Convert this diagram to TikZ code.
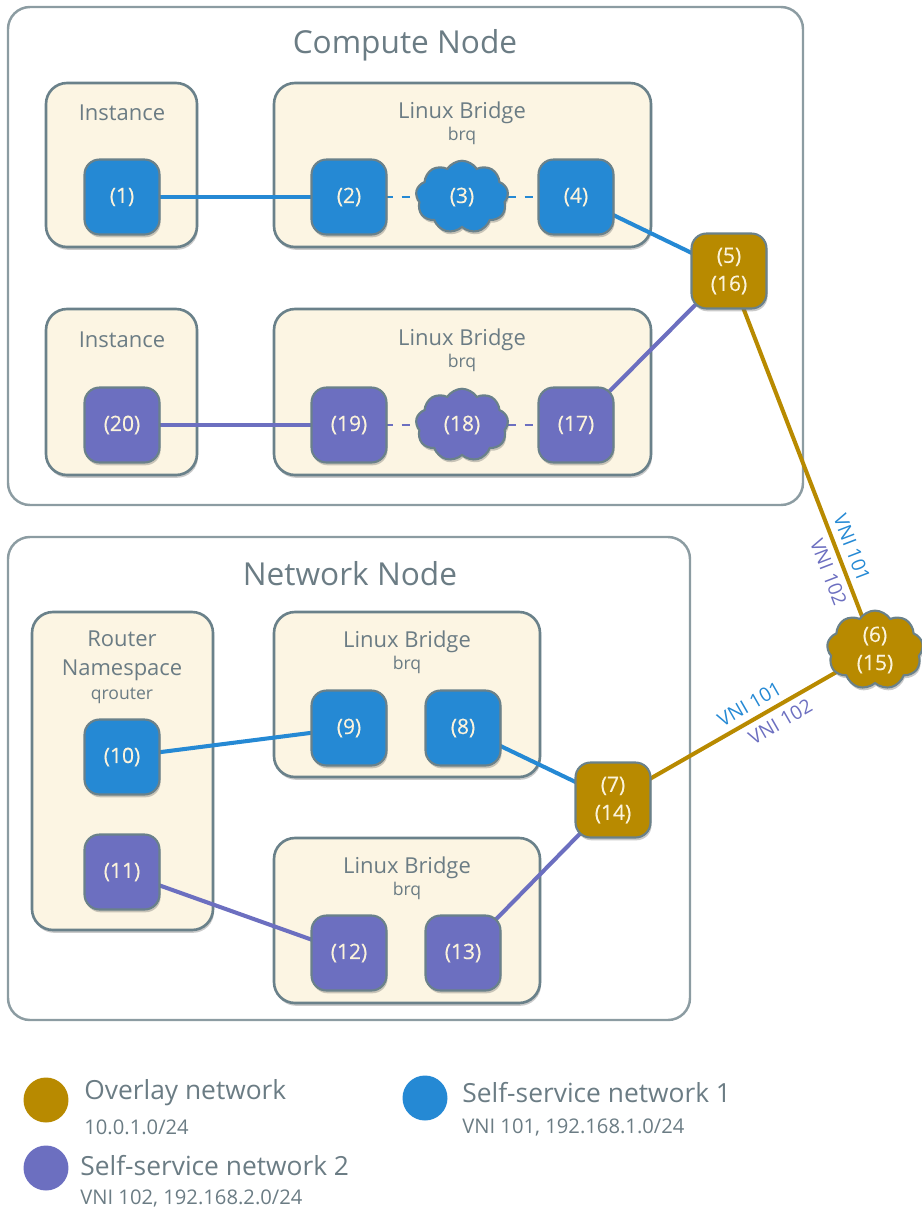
\documentclass[tikz,border=0pt]{standalone}
\usepackage{fontspec}
\setmainfont{Open Sans}
\newfontfamily\portfont{Open Sans}[FakeBold=0.4]
\usetikzlibrary{shapes.symbols,shadows,fit}

\definecolor{ovlgold}{HTML}{B88A00}
\definecolor{netblue}{HTML}{2589D4}
\definecolor{netpurple}{HTML}{6C6FC0}
\definecolor{boxcream}{HTML}{FCF5E3}
\definecolor{boxedge}{HTML}{6A818A}
\definecolor{hostedge}{HTML}{8C9CA2}
\definecolor{labelgrey}{HTML}{6B7C84}
\definecolor{porttext}{HTML}{FBF3DC}

\pgfdeclarelayer{boxes}
\pgfdeclarelayer{wires}
\pgfsetlayers{boxes,wires,main}

\tikzset{
  softshadow/.style={drop shadow={shadow xshift=0.6pt, shadow yshift=-1.6pt, opacity=0.35, fill=black!60}},
  host/.style={draw=hostedge, line width=1.4pt, rounded corners=0.44cm, inner sep=0pt},
  container/.style={draw=boxedge, line width=1.5pt, rounded corners=0.42cm, fill=boxcream, inner sep=0pt, softshadow},
  hosttitle/.style={text=labelgrey, font=\fontsize{18}{20}\selectfont},
  boxtitle/.style={text=labelgrey, font=\fontsize{12.5}{16.5}\selectfont, align=center},
  boxsub/.style={text=labelgrey, font=\fontsize{10}{11}\selectfont},
  port/.style={draw=boxedge, line width=1.2pt, rounded corners=0.3cm, minimum size=1.5cm,
    text=porttext, font=\portfont\fontsize{12}{16}\selectfont, align=center, softshadow},
  bridgecloud/.style={cloud, cloud puffs=9, cloud puff arc=115, aspect=1.35, draw=boxedge,
    line width=1.2pt, minimum width=1.85cm, minimum height=1.45cm, inner sep=0pt,
    text=porttext, font=\portfont\fontsize{12}{16}\selectfont, align=center, softshadow},
  link/.style={line width=2.3pt},
  patch/.style={line width=1.3pt, dash pattern=on 5pt off 5pt},
  vni/.style={font=\fontsize{11}{12}\selectfont, sloped, inner sep=3.5pt},
  legenddot/.style={circle, minimum size=0.9cm, inner sep=0pt},
  legendtext/.style={anchor=west, text=labelgrey, font=\fontsize{15}{17}\selectfont, inner sep=0pt},
  legendsub/.style={anchor=west, text=labelgrey, font=\fontsize{11.5}{13}\selectfont, inner sep=0pt}
}

\begin{document}
\begin{tikzpicture}[x=0.02cm,y=-0.02cm]
  \useasboundingbox (0,0) rectangle (921,1214);

  \begin{pgfonlayer}{boxes}
  % hosts
  \node[host, fit={(8,7) (803,505)}] (compute) {};
  \node[host, fit={(8,537) (690,1020)}] (network) {};

  % compute node
  \node[container, fit={(46,83) (197,247)}] (inst1) {};
  \node[container, fit={(274,83) (651,247)}] (brq1) {};
  \node[container, fit={(46,309) (197,475)}] (inst2) {};
  \node[container, fit={(274,309) (651,475)}] (brq2) {};

  % network node
  \node[container, fit={(32,612) (213,930)}] (router) {};
  \node[container, fit={(274,612) (540,777)}] (brq3) {};
  \node[container, fit={(274,838) (540,1003)}] (brq4) {};
  \end{pgfonlayer}

  \node[hosttitle] (computetitle) at (405,45) {Compute Node};
  \node[hosttitle] (networktitle) at (350,574) {Network Node};

  \node[boxtitle] (inst1title) at (122,113) {Instance};
  \node[boxtitle] (brq1title) at (462,113) {Linux Bridge};
  \node[boxsub] (brq1sub) at (462,136) {brq};
  \node[boxtitle] (inst2title) at (122,340) {Instance};
  \node[boxtitle] (brq2title) at (462,340) {Linux Bridge};
  \node[boxsub] (brq2sub) at (462,363) {brq};

  \node[boxtitle] (routertitle) at (122,656) {Router\\Namespace};
  \node[boxsub] (routersub) at (122,696) {qrouter};
  \node[boxtitle] (brq3title) at (407,642) {Linux Bridge};
  \node[boxsub] (brq3sub) at (407,665) {brq};
  \node[boxtitle] (brq4title) at (407,868) {Linux Bridge};
  \node[boxsub] (brq4sub) at (407,891) {brq};

  % ports
  \node[port, fill=netblue] (p1) at (122,197) {(1)};
  \node[port, fill=netblue] (p2) at (349,197) {(2)};
  \node[bridgecloud, fill=netblue] (p3) at (462,197) {(3)};
  \node[port, fill=netblue] (p4) at (576,197) {(4)};
  \node[port, fill=ovlgold] (p5) at (729,271) {(5)\\(16)};

  \node[port, fill=netpurple] (p20) at (122,425) {(20)};
  \node[port, fill=netpurple] (p19) at (349,425) {(19)};
  \node[bridgecloud, fill=netpurple] (p18) at (462,425) {(18)};
  \node[port, fill=netpurple] (p17) at (576,425) {(17)};

  \node[port, fill=netblue] (p10) at (122,757) {(10)};
  \node[port, fill=netblue] (p9) at (349,728) {(9)};
  \node[port, fill=netblue] (p8) at (463,728) {(8)};
  \node[port, fill=netpurple] (p11) at (122,872) {(11)};
  \node[port, fill=netpurple] (p12) at (349,953) {(12)};
  \node[port, fill=netpurple] (p13) at (463,953) {(13)};
  \node[port, fill=ovlgold] (p7) at (613,800) {(7)\\(14)};

  \node[bridgecloud, fill=ovlgold] (p6) at (875,650) {(6)\\(15)};

  % links
  \begin{pgfonlayer}{wires}
  \draw[link, netblue] (p1.center) -- (p2.center);
  \draw[patch, netblue] (p2.center) -- (p3.center) -- (p4.center);
  \draw[link, netblue] (p4.center) -- (p5.center);
  \draw[link, netpurple] (p20.center) -- (p19.center);
  \draw[patch, netpurple] (p19.center) -- (p18.center) -- (p17.center);
  \draw[link, netpurple] (p17.center) -- (p5.center);
  \draw[link, ovlgold] (p5.center) --
    node[vni, above, text=netblue, pos=0.745] (vni101a) {VNI 101}
    node[vni, below, text=netpurple, pos=0.78] (vni102a) {VNI 102} (p6.center);
  \draw[link, ovlgold] (p7.center) --
    node[vni, above, text=netblue, pos=0.55] (vni101b) {VNI 101}
    node[vni, below, text=netpurple, pos=0.61] (vni102b) {VNI 102} (p6.center);
  \draw[link, netblue] (p10.center) -- (p9.center);
  \draw[link, netblue] (p8.center) -- (p7.center);
  \draw[link, netpurple] (p11.center) -- (p12.center);
  \draw[link, netpurple] (p13.center) -- (p7.center);
  \end{pgfonlayer}

  % legend
  \node[legenddot, fill=ovlgold] (lgovl) at (46,1100) {};
  \node[legendtext] (lgovltext) at (84,1093) {Overlay network};
  \node[legendsub] (lgovlsub) at (84,1127) {10.0.1.0/24};
  \node[legenddot, fill=netblue] (lgnet1) at (425,1098) {};
  \node[legendtext] (lgnet1text) at (462,1093) {Self-service network 1};
  \node[legendsub] (lgnet1sub) at (462,1127) {VNI 101, 192.168.1.0/24};
  \node[legenddot, fill=netpurple] (lgnet2) at (46,1168) {};
  \node[legendtext] (lgnet2text) at (80,1166) {Self-service network 2};
  \node[legendsub] (lgnet2sub) at (80,1198) {VNI 102, 192.168.2.0/24};
\end{tikzpicture}
\end{document}
